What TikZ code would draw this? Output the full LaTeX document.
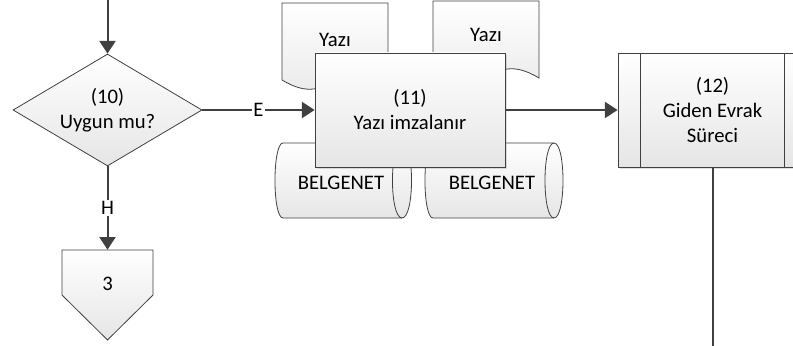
\documentclass[tikz,border=0pt]{standalone}
\usepackage{fontspec}
\setmainfont{Carlito}
\usetikzlibrary{arrows.meta,shapes.geometric,shadows}

\definecolor{linegray}{HTML}{404040}

\tikzset{
	shapebox/.style={draw=linegray, line width=0.6pt, top color=white, bottom color=black!10},
	procbox/.style={shapebox, rectangle, minimum width=142.5pt, minimum height=85.5pt, inner sep=0pt, align=center,
		drop shadow={shadow xshift=1.5pt, shadow yshift=-1.5pt, opacity=0.25}},
	decision/.style={shapebox, diamond, shape aspect=1.69, minimum width=141.75pt, minimum height=84pt, inner sep=0pt, align=center},
	flow/.style={draw=linegray, line width=1.5pt, -{Triangle[length=9.5pt, width=12pt]}},
	lbl/.style={fill=white, inner sep=1pt},
	every node/.style={font=\fontsize{15.5pt}{18.75pt}\selectfont}
}

\begin{document}
\begin{tikzpicture}[x=0.75pt, y=-0.75pt]
			\useasboundingbox (0, 0) rectangle (793, 346);
			\clip (0, 0) rectangle (793, 346);

			% documents behind (11)
			\draw[shapebox] (282, 3) -- (388, 3) -- (388, 80)
				.. controls (335, 48) and (335, 112) .. (282, 80) -- cycle;
			\node (doc1) at (335, 40) {Yazı};
			\draw[shapebox] (433, 1) -- (539, 1) -- (539, 78)
				.. controls (486, 46) and (486, 110) .. (433, 78) -- cycle;
			\node (doc2) at (486, 35) {Yazı};

			% storage
			\draw[shapebox] (283, 143) -- (402, 143) .. controls (414.7, 143) and (414.7, 218) .. (402, 218)
				-- (283, 218) .. controls (272.3, 218) and (272.3, 143) .. (283, 143) -- cycle;
			\draw[draw=linegray, line width=0.6pt] (402, 143) .. controls (389.3, 143) and (389.3, 218) .. (402, 218);
			\node (db1) at (341, 183) {BELGENET};
			\draw[shapebox] (433, 143) -- (554, 143) .. controls (566, 143) and (566, 218) .. (554, 218)
				-- (433, 218) .. controls (422.3, 218) and (422.3, 143) .. (433, 143) -- cycle;
			\draw[draw=linegray, line width=0.6pt] (554, 143) .. controls (542, 143) and (542, 218) .. (554, 218);
			\node (db2) at (492, 183) {BELGENET};

			% steps
			\node[decision] (d10) at (107.5, 110) {(10)\\Uygun mu?};
			\node[procbox] (p11) at (410, 110) {(11)\\Yazı imzalanır};
			\node[procbox, minimum width=141.75pt] (p12) at (712.5, 110) {(12)\\Giden Evrak\\Süreci};
			\draw[draw=linegray, line width=0.6pt] ([xshift=17.25pt]p12.north west) -- ([xshift=17.25pt]p12.south west);
			\draw[draw=linegray, line width=0.6pt] ([xshift=-17.25pt]p12.north east) -- ([xshift=-17.25pt]p12.south east);

			\draw[shapebox] (62, 250) -- (153, 250) -- (153, 295) -- (107.5, 340) -- (62, 295) -- cycle;
			\node[minimum width=68.25pt, minimum height=51pt, inner sep=0pt] (off3) at (107.5, 284) {3};

			% connectors
			\coordinate (in) at (107.5, 0);
			\coordinate (out) at (712.5, 346);
			\draw[flow] (in) -- (d10);
			\draw[flow] (d10) -- node[lbl]{E} (p11);
			\draw[flow] (d10) -- node[lbl]{H} (off3);
			\draw[flow] (p11) -- (p12);
			\draw[draw=linegray, line width=1.5pt] (p12.south) -- (out);

		\end{tikzpicture}
\end{document}
